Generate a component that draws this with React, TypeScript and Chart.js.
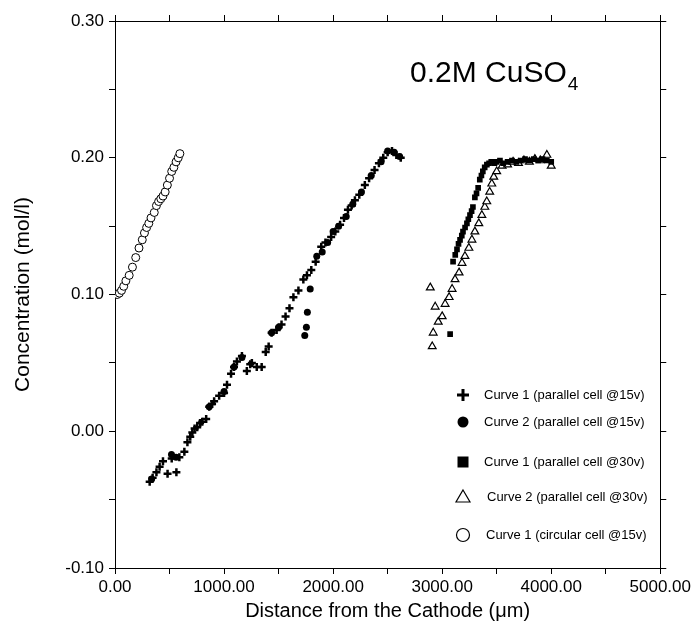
import React, { useEffect, useRef } from "react";
import { Chart, registerables } from "chart.js";

Chart.register(...registerables);

// ---- Data ----
const curve1Par15X = [318, 345, 380, 409, 440, 482, 520, 563, 590, 636, 664, 690, 709, 730, 754, 780, 800, 836, 864, 890, 909, 955, 1000, 1027, 1064, 1091, 1118, 1164, 1209, 1240, 1255, 1300, 1345, 1382, 1409, 1436, 1482, 1527, 1564, 1600, 1636, 1682, 1727, 1760, 1800, 1840, 1891, 1930, 1982, 2020, 2064, 2100, 2136, 2170, 2200, 2240, 2291, 2330, 2380, 2420, 2460, 2500, 2540, 2580, 2620];
const curve1Par15Y = [-0.037, -0.034, -0.030, -0.026, -0.022, -0.031, -0.020, -0.030, -0.019, -0.015, -0.008, -0.004, -0.001, 0.002, 0.003, 0.006, 0.007, 0.009, 0.018, 0.020, 0.022, 0.026, 0.028, 0.034, 0.042, 0.047, 0.051, 0.055, 0.044, 0.049, 0.050, 0.047, 0.047, 0.058, 0.062, 0.072, 0.074, 0.078, 0.084, 0.090, 0.098, 0.103, 0.111, 0.114, 0.118, 0.124, 0.135, 0.138, 0.142, 0.146, 0.151, 0.156, 0.162, 0.165, 0.169, 0.173, 0.180, 0.185, 0.191, 0.196, 0.200, 0.204, 0.205, 0.202, 0.200];

const curve2Par15X = [336, 518, 560, 864, 1000, 1091, 1164, 1436, 1500, 1740, 1755, 1764, 1790, 1850, 1900, 1950, 2000, 2050, 2120, 2180, 2260, 2350, 2440, 2500, 2560, 2610];
const curve2Par15Y = [-0.035, -0.017, -0.019, 0.018, 0.029, 0.047, 0.054, 0.072, 0.076, 0.070, 0.076, 0.087, 0.104, 0.128, 0.131, 0.138, 0.146, 0.150, 0.157, 0.166, 0.175, 0.187, 0.197, 0.205, 0.204, 0.201];

const curve1Par30X = [3073, 3100, 3120, 3136, 3150, 3164, 3180, 3191, 3210, 3227, 3240, 3255, 3270, 3282, 3300, 3315, 3330, 3345, 3360, 3373, 3390, 3410, 3430, 3450, 3480, 3500, 3530, 3560, 3600, 3640, 3680, 3720, 3760, 3800, 3840, 3880, 3920, 3960, 4000];
const curve1Par30Y = [0.071, 0.124, 0.129, 0.133, 0.137, 0.140, 0.143, 0.146, 0.149, 0.152, 0.155, 0.158, 0.161, 0.164, 0.171, 0.174, 0.178, 0.184, 0.187, 0.190, 0.193, 0.195, 0.196, 0.197, 0.196, 0.197, 0.198, 0.196, 0.197, 0.198, 0.197, 0.198, 0.199, 0.198, 0.199, 0.198, 0.199, 0.198, 0.197];

const curve2Par30X = [2891, 2909, 2918, 2936, 2964, 3000, 3027, 3064, 3091, 3118, 3155, 3182, 3209, 3245, 3273, 3300, 3336, 3364, 3391, 3409, 3436, 3455, 3473, 3500, 3550, 3600, 3650, 3700, 3750, 3800, 3850, 3900, 3960, 4000];
const curve2Par30Y = [0.105, 0.062, 0.072, 0.091, 0.080, 0.084, 0.093, 0.098, 0.104, 0.111, 0.116, 0.123, 0.128, 0.134, 0.140, 0.146, 0.152, 0.158, 0.164, 0.168, 0.175, 0.181, 0.186, 0.190, 0.194, 0.195, 0.197, 0.196, 0.198, 0.197, 0.199, 0.198, 0.202, 0.194];

const curve1CircX = [20, 40, 60, 80, 100, 130, 160, 190, 220, 250, 270, 290, 310, 330, 360, 380, 400, 420, 440, 460, 480, 500, 520, 540, 560, 580, 595];
const curve1CircY = [0.100, 0.101, 0.103, 0.106, 0.110, 0.114, 0.120, 0.127, 0.134, 0.140, 0.145, 0.149, 0.152, 0.156, 0.160, 0.165, 0.168, 0.170, 0.172, 0.175, 0.180, 0.185, 0.190, 0.193, 0.197, 0.200, 0.203];

const legendLabels = [
  "Curve 1 (parallel cell @15v)",
  "Curve 2 (parallel cell @15v)",
  "Curve 1 (parallel cell @30v)",
  "Curve 2 (parallel cell @30v)",
  "Curve 1 (circular cell @15v)",
];
const chartTitle = "0.2M CuSO";
const chartTitleSub = "4";
const xTitle = "Distance from the Cathode (\u03bcm)";
const yTitle = "Concentration (mol/l)";

const FONT = '"Liberation Sans", Arial, sans-serif';

const pts = (xs: number[], ys: number[]) => xs.map((x, i) => ({ x, y: ys[i] }));

const overlayPlugin = {
  id: "overlay",
  afterDraw(chart: any) {
    const ctx = chart.ctx as CanvasRenderingContext2D;
    ctx.save();
    ctx.fillStyle = "#000";
    ctx.strokeStyle = "#000";
    // title
    ctx.font = `30px ${FONT}`;
    ctx.textBaseline = "alphabetic";
    ctx.textAlign = "left";
    ctx.fillText(chartTitle, 410, 82);
    const w = ctx.measureText(chartTitle).width;
    ctx.font = `19px ${FONT}`;
    ctx.fillText(chartTitleSub, 410 + w + 1, 90);

    // legend
    const rows = [395, 422, 462, 497, 535];
    const textX = [484, 484, 484, 487, 486];
    const mx = 463;
    ctx.font = `13px ${FONT}`;
    ctx.textBaseline = "middle";
    rows.forEach((ry, i) => {
      ctx.fillText(legendLabels[i], textX[i], ry);
      ctx.beginPath();
      if (i === 0) {
        ctx.lineWidth = 3;
        ctx.moveTo(mx - 6, ry);
        ctx.lineTo(mx + 6, ry);
        ctx.moveTo(mx, ry - 6);
        ctx.lineTo(mx, ry + 6);
        ctx.stroke();
      } else if (i === 1) {
        ctx.arc(mx, ry, 5.5, 0, Math.PI * 2);
        ctx.fill();
      } else if (i === 2) {
        ctx.rect(mx - 5.5, ry - 5.5, 11, 11);
        ctx.fill();
      } else if (i === 3) {
        ctx.lineWidth = 1.2;
        ctx.moveTo(mx, ry - 7);
        ctx.lineTo(mx + 7, ry + 5);
        ctx.lineTo(mx - 7, ry + 5);
        ctx.closePath();
        ctx.stroke();
      } else {
        ctx.lineWidth = 1.2;
        ctx.arc(mx, ry, 6.5, 0, Math.PI * 2);
        ctx.stroke();
      }
    });
    ctx.restore();
  },
};

export default function App() {
  const ref = useRef<HTMLCanvasElement | null>(null);
  useEffect(() => {
    if (!ref.current) return;
    const tickFont = { family: FONT, size: 17 };
    const grid = {
      display: true,
      drawOnChartArea: false,
      drawTicks: true,
      tickLength: 6,
      color: "#000",
      tickColor: "#000",
    };
    const border = { display: true, color: "#000", width: 1 };
    const xLabel = (v: any) => (Math.round(Number(v)) % 1000 === 0 ? Number(v).toFixed(2) : "");
    const yLabel = (v: any) => (Math.round(Number(v) * 100) % 10 === 0 ? Number(v).toFixed(2) : "");
    const chart = new Chart(ref.current, {
      type: "scatter",
      data: {
        datasets: [
          {
            label: legendLabels[0],
            data: pts(curve1Par15X, curve1Par15Y),
            pointStyle: "cross",
            pointRadius: 4,
            borderWidth: 2.5,
            borderColor: "#000",
            backgroundColor: "#000",
          },
          {
            label: legendLabels[1],
            data: pts(curve2Par15X, curve2Par15Y),
            pointStyle: "circle",
            pointRadius: 3.5,
            borderWidth: 0,
            borderColor: "#000",
            backgroundColor: "#000",
          },
          {
            label: legendLabels[2],
            data: pts(curve1Par30X, curve1Par30Y),
            pointStyle: "rect",
            pointRadius: 4,
            borderWidth: 0,
            borderColor: "#000",
            backgroundColor: "#000",
          },
          {
            label: legendLabels[3],
            data: pts(curve2Par30X, curve2Par30Y),
            pointStyle: "triangle",
            pointRadius: 4.5,
            borderWidth: 1.2,
            borderColor: "#000",
            backgroundColor: "#fff",
          },
          {
            label: legendLabels[4],
            data: pts(curve1CircX, curve1CircY),
            pointStyle: "circle",
            pointRadius: 4,
            borderWidth: 1,
            borderColor: "#000",
            backgroundColor: "#fff",
          },
        ],
      },
      options: {
        animation: false,
        responsive: false,
        maintainAspectRatio: false,
        layout: { padding: 0 },
        plugins: { legend: { display: false }, tooltip: { enabled: false }, title: { display: false } },
        scales: {
          x: {
            type: "linear",
            position: "bottom",
            min: 0,
            max: 5000,
            grid,
            border,
            ticks: { stepSize: 500, color: "#000", font: tickFont, padding: 3, maxRotation: 0, autoSkip: false, callback: xLabel },
            title: { display: true, text: xTitle, color: "#000", font: { family: FONT, size: 20 }, padding: { top: 0, bottom: 1 } },
            afterFit: (s: any) => { s.height = 56; },
          },
          x2: {
            type: "linear",
            position: "top",
            min: 0,
            max: 5000,
            grid,
            border,
            ticks: { stepSize: 500, display: false },
            afterFit: (s: any) => { s.height = 21; },
          },
          y: {
            type: "linear",
            position: "left",
            min: -0.1,
            max: 0.3,
            grid,
            border,
            ticks: { stepSize: 0.05, color: "#000", font: tickFont, padding: 5, autoSkip: false, callback: yLabel },
            title: { display: true, text: yTitle, color: "#000", font: { family: FONT, size: 21 }, padding: { top: 11, bottom: 0 } },
            afterFit: (s: any) => { s.width = 115; },
          },
          y2: {
            type: "linear",
            position: "right",
            min: -0.1,
            max: 0.3,
            grid,
            border,
            ticks: { stepSize: 0.05, display: false },
            afterFit: (s: any) => { s.width = 28; },
          },
        },
      } as any,
      plugins: [overlayPlugin],
    });
    return () => chart.destroy();
  }, []);
  return (
    <div style={{ position: "absolute", left: 0, top: 0, width: 694, height: 624, background: "#fff" }}>
      <canvas ref={ref} width={694} height={624} style={{ display: "block", width: 694, height: 624 }} />
    </div>
  );
}
